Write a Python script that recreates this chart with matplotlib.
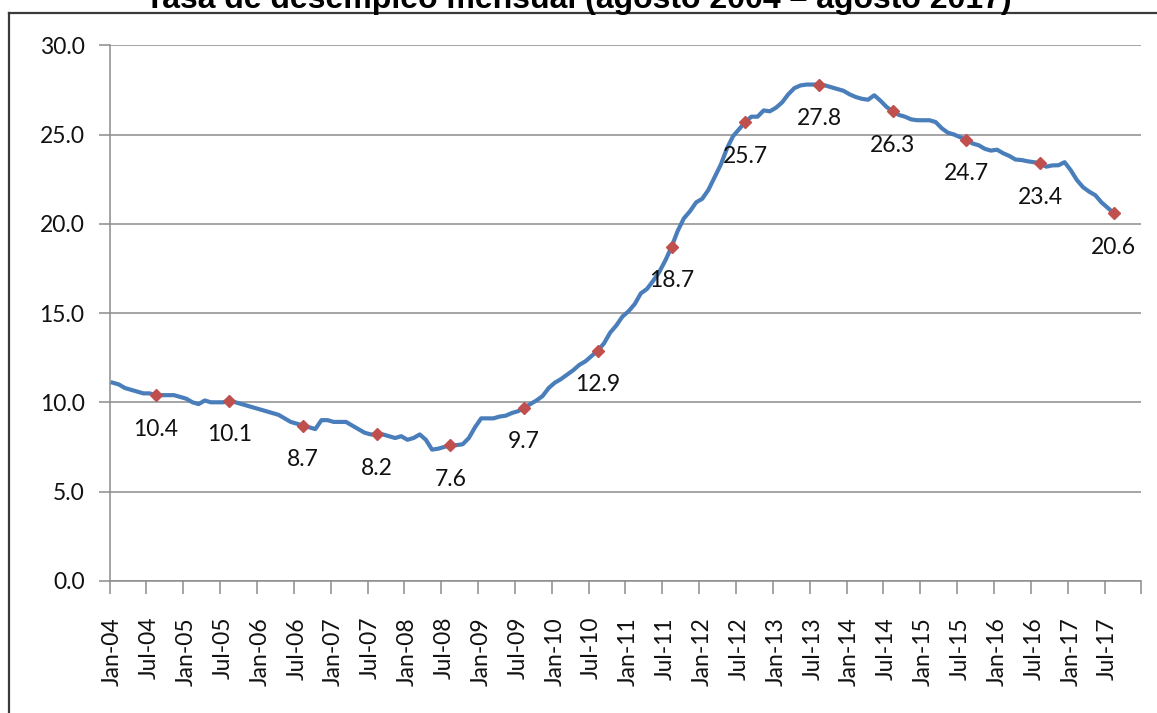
import numpy as np
import matplotlib.pyplot as plt
from matplotlib.lines import Line2D

# monthly unemployment rate, Jan-04 .. Aug-17
rate = [
    # 2004
    11.1, 11.0, 10.8, 10.7, 10.6, 10.5, 10.5, 10.4, 10.4, 10.4, 10.4, 10.3,
    # 2005
    10.2, 10.0, 9.9, 10.1, 10.0, 10.0, 10.0, 10.1, 10.0, 9.9, 9.8, 9.7,
    # 2006
    9.6, 9.5, 9.4, 9.3, 9.1, 8.9, 8.8, 8.7, 8.6, 8.5, 9.0, 9.0,
    # 2007
    8.9, 8.9, 8.9, 8.7, 8.5, 8.3, 8.2, 8.2, 8.2, 8.1, 8.0, 8.1,
    # 2008
    7.9, 8.0, 8.2, 7.9, 7.35, 7.4, 7.5, 7.6, 7.6, 7.65, 8.0, 8.6,
    # 2009
    9.1, 9.1, 9.1, 9.2, 9.25, 9.4, 9.5, 9.7, 9.9, 10.1, 10.35, 10.8,
    # 2010
    11.1, 11.3, 11.55, 11.8, 12.1, 12.3, 12.6, 12.9, 13.3, 13.9, 14.3, 14.8,
    # 2011
    15.1, 15.5, 16.1, 16.35, 16.8, 17.3, 17.95, 18.7, 19.6, 20.3, 20.7, 21.2,
    # 2012
    21.4, 21.9, 22.6, 23.3, 24.2, 24.9, 25.3, 25.7, 26.0, 26.0, 26.35, 26.3,
    # 2013
    26.5, 26.8, 27.25, 27.6, 27.75, 27.8, 27.8, 27.8, 27.75, 27.65, 27.55, 27.45,
    # 2014
    27.25, 27.1, 27.0, 26.95, 27.2, 26.9, 26.55, 26.3, 26.1, 26.0, 25.85, 25.8,
    # 2015
    25.8, 25.8, 25.7, 25.35, 25.1, 25.0, 24.85, 24.7, 24.5, 24.4, 24.2, 24.1,
    # 2016
    24.15, 23.95, 23.8, 23.6, 23.57, 23.5, 23.45, 23.4, 23.2, 23.27, 23.28, 23.45,
    # 2017
    23.0, 22.45, 22.05, 21.8, 21.6, 21.2, 20.9, 20.6,
]

# August of each year, highlighted with a label
aug_idx = [7, 19, 31, 43, 55, 67, 79, 91, 103, 115, 127, 139, 151, 163]
aug_vals = [10.4, 10.1, 8.7, 8.2, 7.6, 9.7, 12.9, 18.7, 25.7, 27.8, 26.3, 24.7, 23.4, 20.6]

months = ["Jan", "Jul"]
years = list(range(4, 18))
tick_labels = [f"{m}-{y:02d}" for y in years for m in months]
n_cat = 168  # category axis runs Jan-04 .. Dec-17

LINE = "#4A7EBB"
MARK = "#C0504D"
GRID = "#8C8C8C"
FONT = "Lato"

fig = plt.figure(figsize=(11.57, 7.13), dpi=100)
ax = fig.add_axes([0.0947, 0.1854, 0.9918 - 0.0947 - 0.0053, 0.9365 - 0.1854])

x = np.arange(len(rate))
ax.plot(x, rate, color=LINE, lw=3.0, solid_joinstyle="round", zorder=3)
ax.plot(aug_idx, aug_vals, ls="none", marker="D", ms=5.8, color=MARK, zorder=4)

for i, v in zip(aug_idx, aug_vals):
    ax.annotate(f"{v:.1f}", (i, v), xytext=(0, -34), textcoords="offset pixels",
                ha="center", va="center", fontsize=16.5, family=FONT, color="#111111")

ax.set_xlim(-0.5, n_cat - 0.5)
ax.set_ylim(0, 30)

ax.set_yticks(np.arange(0, 31, 5))
ax.set_yticklabels([f"{v:.1f}" for v in np.arange(0, 31, 5)], family=FONT, fontsize=16.5)
ax.yaxis.grid(True, color=GRID, lw=1.1)
ax.set_axisbelow(True)

# tick marks on category boundaries, labels on category centres
ax.set_xticks(np.arange(-0.5, n_cat, 6))
ax.set_xticklabels([])
ax.set_xticks(np.arange(0, 163, 6), minor=True)
ax.set_xticklabels(tick_labels, minor=True, rotation=90, family=FONT, fontsize=16.5,
                   va="top", ha="center")

ax.tick_params(axis="x", which="major", length=9, width=1.1, color=GRID, direction="out")
ax.tick_params(axis="x", which="minor", length=0, pad=26, labelcolor="#111111")
ax.tick_params(axis="y", length=8, width=1.1, color=GRID, pad=10, labelcolor="#111111")

for s in ["top", "right"]:
    ax.spines[s].set_visible(False)
for s in ["left", "bottom"]:
    ax.spines[s].set_color(GRID)
    ax.spines[s].set_linewidth(1.1)

# outer frame (top and left edges visible)
fig.add_artist(Line2D([8.5 / 1157, 8.5 / 1157], [0, 1 - 13 / 713], color="#3A3A3A", lw=1.6))
fig.add_artist(Line2D([8.5 / 1157, 1], [1 - 13 / 713, 1 - 13 / 713], color="#3A3A3A", lw=1.6))

fig.text(0.5, 1 - 8 / 713, "Tasa de desempleo mensual (agosto 2004 \u2013 agosto 2017)",
         ha="center", va="baseline", fontsize=23, fontweight="bold", family="Liberation Sans")

fig.savefig("out.png", dpi=100)
